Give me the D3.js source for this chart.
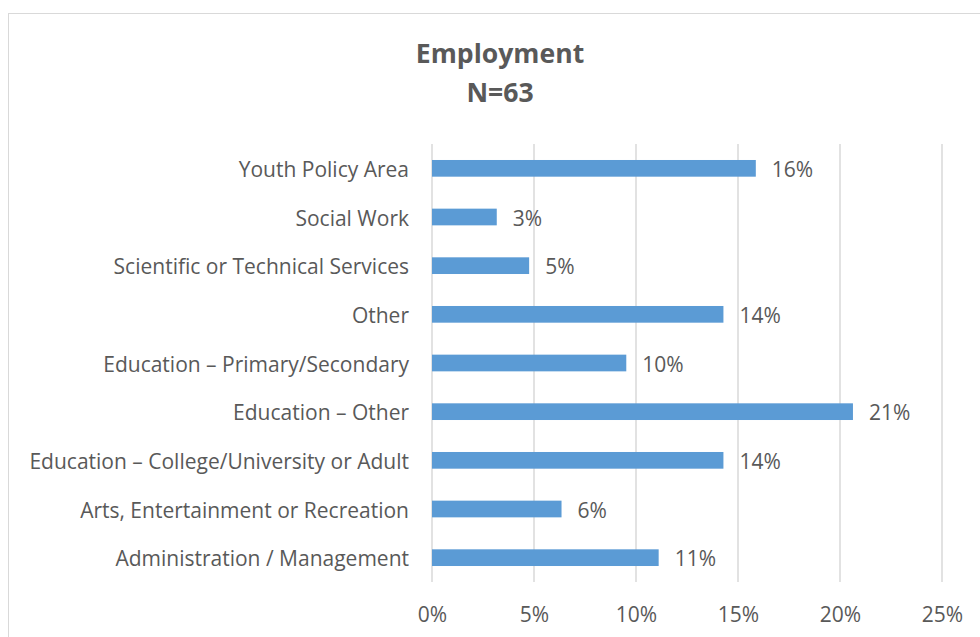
<!DOCTYPE html>
<html>
<head>
<meta charset="utf-8">
<script src="https://cdn.jsdelivr.net/npm/d3@7"></script>
<style>
  html, body { margin: 0; padding: 0; background: #fff; }
  svg { display: block; }
</style>
</head>
<body>
<svg id="chart" width="980" height="637"></svg>
<script>
// Respondents' field of employment (each respondent counted once)
const N = 63;
const categories = [
  "Youth Policy Area",
  "Social Work",
  "Scientific or Technical Services",
  "Other",
  "Education – Primary/Secondary",
  "Education – Other",
  "Education – College/University or Adult",
  "Arts, Entertainment or Recreation",
  "Administration / Management"
];
const counts = [10, 2, 3, 9, 6, 13, 9, 4, 7];
const xTicks = [0, 0.05, 0.10, 0.15, 0.20, 0.25];
const titleLines = ["Employment", "N=" + N];

const data = categories.map((c, i) => ({ name: c, share: counts[i] / N }));

const svg = d3.select("#chart");
const W = 980, H = 637;
const font = "'Open Sans', 'Noto Sans', sans-serif";
const textColor = "#595959";
const gridColor = "#d9d9d9";
const barColor = "#5b9bd5";
const labelSize = 21;

// chart frame
svg.append("rect")
  .attr("x", 8.5).attr("y", 13.5)
  .attr("width", W + 20).attr("height", H + 20)
  .attr("fill", "#fff")
  .attr("stroke", gridColor).attr("stroke-width", 1);

const plot = { left: 432, right: 942, top: 144, bottom: 582 };

const x = d3.scaleLinear().domain([0, 0.25]).range([plot.left, plot.right]);
const y = d3.scaleBand().domain(categories)
  .range([plot.top, plot.bottom])
  .paddingInner(0.657).paddingOuter(0.3285);

// title
svg.append("g").selectAll("text")
  .data(titleLines).join("text")
  .attr("x", 500)
  .attr("y", (d, i) => 63 + i * 39)
  .attr("text-anchor", "middle")
  .attr("font-family", font)
  .attr("font-weight", "bold")
  .attr("font-size", 26.6)
  .attr("fill", textColor)
  .text(d => d);

// vertical gridlines
svg.append("g").selectAll("line")
  .data(xTicks).join("line")
  .attr("x1", d => x(d)).attr("x2", d => x(d))
  .attr("y1", plot.top).attr("y2", plot.bottom)
  .attr("stroke", gridColor).attr("stroke-width", 1.5);

// x axis labels
const xAxis = d3.axisBottom(x)
  .tickValues(xTicks)
  .tickFormat(d3.format(".0%"))
  .tickSize(0).tickPadding(0);
const gx = svg.append("g")
  .attr("transform", `translate(0,${plot.bottom + 39.5})`)
  .call(xAxis);
gx.select(".domain").remove();
gx.selectAll("text")
  .attr("dy", 0)
  .attr("font-family", font)
  .attr("font-size", labelSize)
  .attr("fill", textColor);

// category axis
const yAxis = d3.axisLeft(y).tickSize(0).tickPadding(23);
const gy = svg.append("g")
  .attr("transform", `translate(${plot.left},0)`)
  .call(yAxis);
gy.select(".domain").remove();
gy.selectAll("text")
  .attr("dy", "0.41em")
  .attr("font-family", font)
  .attr("font-size", labelSize)
  .attr("fill", textColor);

// bars
svg.append("g").selectAll("rect")
  .data(data).join("rect")
  .attr("x", x(0))
  .attr("y", d => y(d.name))
  .attr("width", d => x(d.share) - x(0))
  .attr("height", y.bandwidth())
  .attr("fill", barColor);

// value labels
svg.append("g").selectAll("text")
  .data(data).join("text")
  .attr("x", d => x(d.share) + 16)
  .attr("y", d => y(d.name) + y.bandwidth() / 2)
  .attr("dy", "0.41em")
  .attr("font-family", font)
  .attr("font-size", labelSize)
  .attr("fill", textColor)
  .text(d => Math.round(d.share * 100) + "%");
</script>
</body>
</html>
